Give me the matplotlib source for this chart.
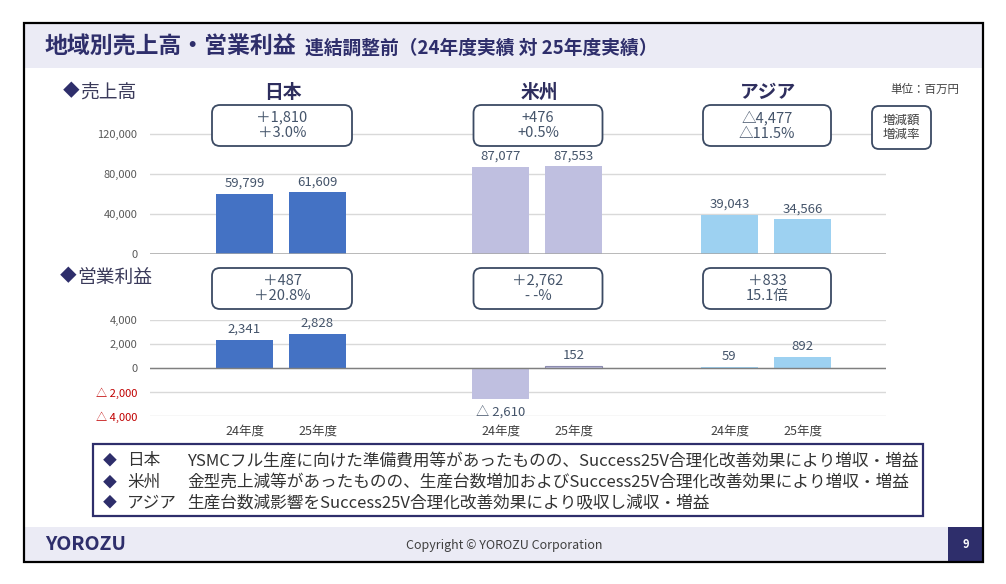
import matplotlib

matplotlib.use("Agg")
import matplotlib.pyplot as plt
from matplotlib.patches import FancyBboxPatch, Rectangle

plt.rcParams["font.family"] = ["Noto Sans CJK JP", "DejaVu Sans"]

# data (million yen)
regions = ["日本", "米州", "アジア"]
years = ["24年度", "25年度"]
sales_24 = [59799, 87077, 39043]
sales_25 = [61609, 87553, 34566]
op_24 = [2341, -2610, 59]
op_25 = [2828, 152, 892]
sales_diff = ["＋1,810\n＋3.0%", "+476\n+0.5%", "△4,477\n△11.5%"]
op_diff = ["＋487\n＋20.8%", "＋2,762\n- -%", "＋833\n15.1倍"]
sales_ticks = [0, 40000, 80000, 120000]
op_ticks = [-4000, -2000, 0, 2000, 4000]
comments = [
    ("日本", "YSMCフル生産に向けた準備費用等があったものの、Success25V合理化改善効果により増収・増益"),
    ("米州", "金型売上減等があったものの、生産台数増加およびSuccess25V合理化改善効果により増収・増益"),
    ("アジア", "生産台数減影響をSuccess25V合理化改善効果により吸収し減収・増益"),
]

# layout / style
W, H = 1006, 584
NAVY = "#2E2E6B"
BOX_EDGE = "#3B4A63"
TXT = "#44546A"
colors = ["#4472C4", "#BFBFE0", "#9DD1F1"]
group_x = [281, 537, 766]
off = 36.5
bw = 57
box_w = [140, 129, 128]


def fmt(v):
    return f"{v:,}" if v >= 0 else f"△ {abs(v):,}"


def pix_axes(fig, left, top, right, bottom):
    return fig.add_axes([left / W, 1 - bottom / H, (right - left) / W, (bottom - top) / H])


fig = plt.figure(figsize=(W / 100, H / 100), dpi=100)
fig.patch.set_facecolor("white")

# ---- bar charts: sales (top) and operating profit (bottom) ----
ax1 = pix_axes(fig, 150, 94, 886, 254)
ax2 = pix_axes(fig, 150, 320, 886, 416)
for ax, v24, v25, ticks, lim in [
    (ax1, sales_24, sales_25, sales_ticks, (0, 160000)),
    (ax2, op_24, op_25, op_ticks, (-4000, 4000)),
]:
    ax.set_facecolor("none")
    ax.set_xlim(150, 886)
    ax.set_ylim(*lim)
    for s in ax.spines.values():
        s.set_visible(False)
    ax.set_yticks(ticks)
    ax.set_yticklabels([fmt(t) for t in ticks], fontsize=8)
    for t, lab in zip(ticks, ax.get_yticklabels()):
        lab.set_color("#C00000" if t < 0 else "#595959")
    ax.tick_params(axis="y", length=0, pad=9)
    ax.grid(axis="y", color="#D9D9D9", lw=1)
    ax.set_axisbelow(True)
    for i in range(3):
        for j, v in enumerate((v24[i], v25[i])):
            x = group_x[i] + (j * 2 - 1) * off
            edge = "#8C8CB0" if (i == 1 and j == 1 and ax is ax2) else "none"
            ax.bar(x, v, width=bw, color=colors[i], edgecolor=edge, lw=0.8, zorder=2)
            ax.annotate(fmt(v), (x, v), xytext=(0, 3 if v >= 0 else -4),
                        textcoords="offset points", ha="center",
                        va="bottom" if v >= 0 else "top", fontsize=9.5, color=TXT)

ax1.axhline(0, color="#A6A6A6", lw=1.8, zorder=3)
ax2.axhline(0, color="#7F7F7F", lw=1, zorder=3)
ax1.set_xticks([])
ax2.set_xticks([g + (j * 2 - 1) * off for g in group_x for j in range(2)])
ax2.set_xticklabels(years * 3, fontsize=9, color="#404040")
ax2.tick_params(axis="x", length=0, pad=6)

# ---- overlay: frame, titles, boxes ----
ov = fig.add_axes([0, 0, 1, 1])
ov.set_xlim(0, W)
ov.set_ylim(H, 0)
ov.axis("off")
ov.set_facecolor("none")

ov.add_patch(Rectangle((24, 24), 959, 44, fc="#EBEBF5", ec="none"))
ov.add_patch(Rectangle((24, 527), 959, 35, fc="#EBEBF5", ec="none"))
ov.add_patch(Rectangle((948, 527), 35, 35, fc=NAVY, ec="none"))
ov.add_patch(Rectangle((24, 23), 959, 539, fc="none", ec="black", lw=1.6))

ov.text(45, 47, "地域別売上高・営業利益", fontsize=16.5, fontweight="bold",
        color=NAVY, va="center")
ov.text(305, 48, "連結調整前（24年度実績 対 25年度実績）", fontsize=13.5,
        fontweight="bold", color=NAVY, va="center")

ov.text(63, 92, "◆", fontsize=12, color=NAVY, va="center")
ov.text(80, 92, "売上高", fontsize=13.5, color="#3A3A5A", va="center")
ov.text(60, 277, "◆", fontsize=12, color=NAVY, va="center")
ov.text(77, 277, "営業利益", fontsize=13.5, color="#3A3A5A", va="center")
ov.text(925, 89, "単位：百万円", fontsize=8.3, color="#404040", va="center", ha="center")

for i, name in enumerate(regions):
    ov.text(group_x[i] + 2, 92, name, fontsize=13.5, fontweight="bold",
            color="#2E2E5E", ha="center", va="center")
    for top, label in ((105, sales_diff[i]), (268, op_diff[i])):
        cx = group_x[i] + 1
        ov.add_patch(FancyBboxPatch((cx - box_w[i] / 2, top), box_w[i], 41,
                                    boxstyle="round,pad=0,rounding_size=8",
                                    fc="white", ec=BOX_EDGE, lw=1.3, zorder=5))
        ov.text(cx, top + 20.5, label, fontsize=10.5, color=TXT, ha="center",
                va="center", linespacing=1.15, zorder=6)

ov.add_patch(FancyBboxPatch((872, 106), 59, 43, boxstyle="round,pad=0,rounding_size=7",
                            fc="white", ec=BOX_EDGE, lw=1.3, zorder=5))
ov.text(901.5, 127.5, "増減額\n増減率", fontsize=9, color="#404040", ha="center",
        va="center", linespacing=1.15, zorder=6)

# comment box
ov.add_patch(Rectangle((93, 444), 830, 72, fc="white", ec=NAVY, lw=1.6))
for k, (name, body) in enumerate(comments):
    y = 461 + k * 21
    ov.text(103, y, "◆", fontsize=10, color=NAVY, va="center")
    ov.text(127, y, name, fontsize=12, color="#333333", va="center")
    ov.text(187, y, body, fontsize=12, color="#333333", va="center")

# footer
ov.text(45, 545, "YOROZU", fontsize=14, fontweight="bold", color=NAVY, va="center")
ov.text(504, 546, "Copyright © YOROZU Corporation", fontsize=9, color="#404040",
        ha="center", va="center")
ov.text(965.5, 545, "9", fontsize=8, fontweight="bold", color="white",
        ha="center", va="center")

fig.savefig("out.png", dpi=100)
plt.close(fig)
